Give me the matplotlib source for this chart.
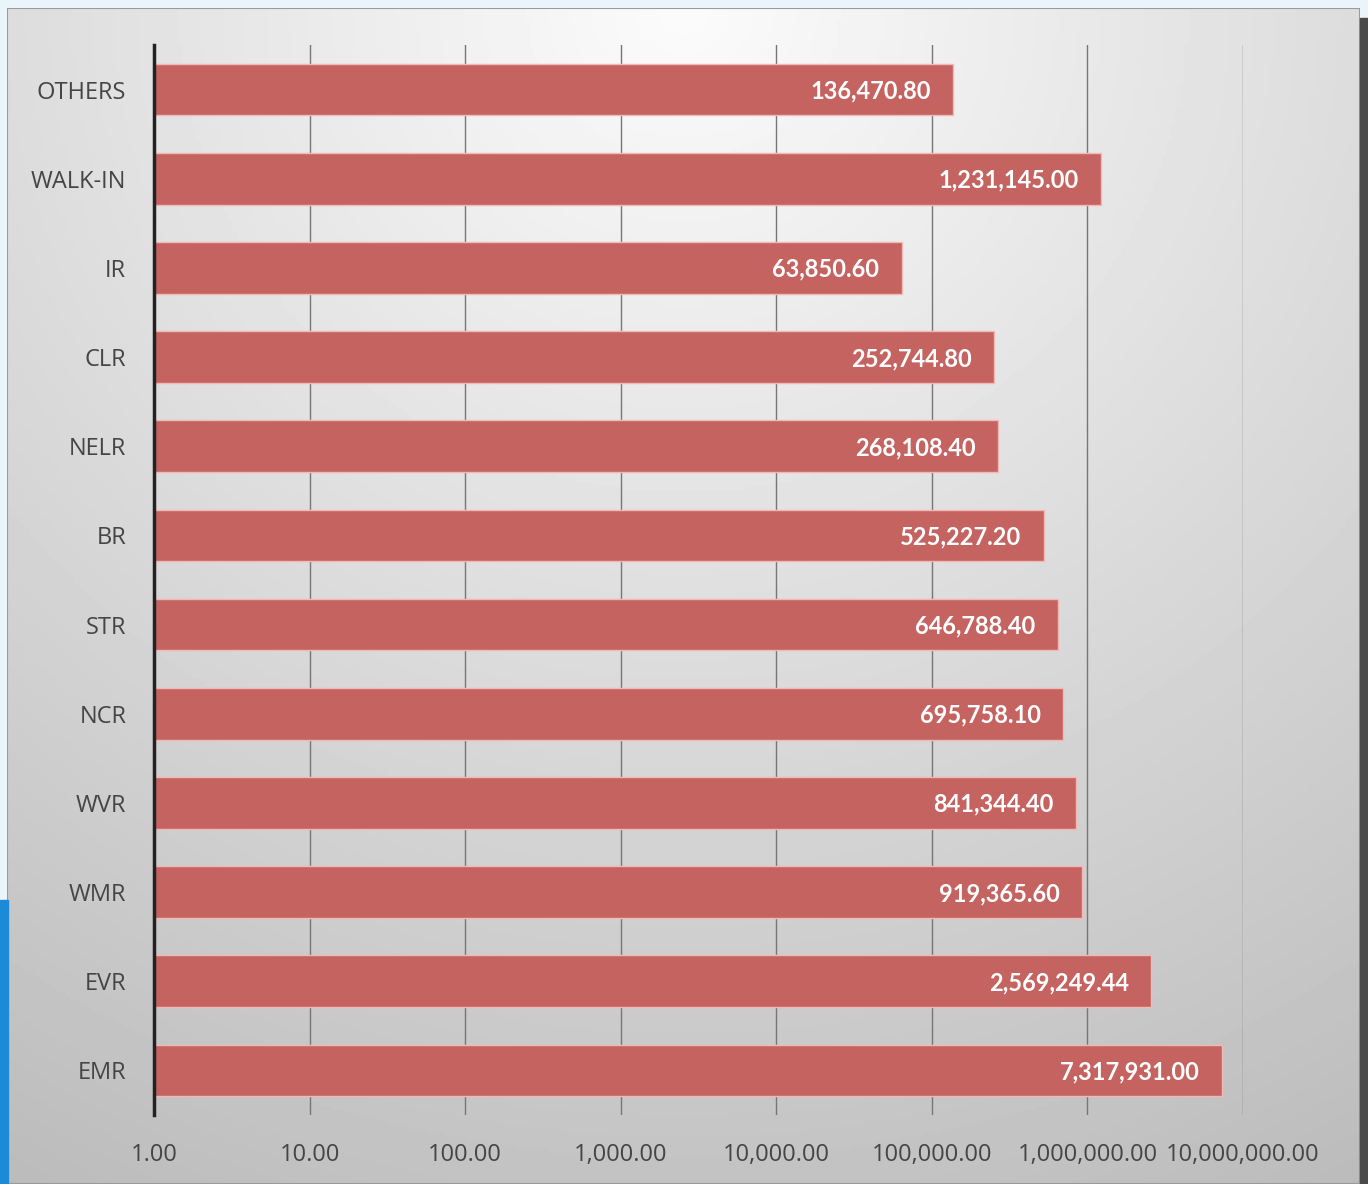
import numpy as np
import matplotlib.pyplot as plt
from matplotlib.patches import Rectangle
from matplotlib.ticker import FixedLocator, FuncFormatter

# categories from top to bottom
regions = ["OTHERS", "WALK-IN", "IR", "CLR", "NELR", "BR", "STR",
           "NCR", "WVR", "WMR", "EVR", "EMR"]
amounts = [136470.80, 1231145.00, 63850.60, 252744.80, 268108.40, 525227.20,
           646788.40, 695758.10, 841344.40, 919365.60, 2569249.44, 7317931.00]
xticks = [1, 10, 100, 1000, 10000, 100000, 1000000, 10000000]

fig = plt.figure(figsize=(13.68, 11.84), dpi=100)
fig.patch.set_facecolor("#EAF4FB")

# desktop bits around the chart window
fig.patches.append(Rectangle((0, 0), 0.006, 0.24, transform=fig.transFigure,
                             color="#1C8AD8", zorder=0))
fig.patches.append(Rectangle((0.994, 0), 0.006, 0.985, transform=fig.transFigure,
                             color="#4A4A4A", zorder=0))

# gradient panel
bg = fig.add_axes([0.005, 0.0, 0.989, 0.993])
bg.set_zorder(0)
yy, xx = np.mgrid[0:1:300j, 0:1:300j]
dist = np.sqrt(((xx - 0.5) * 1.1) ** 2 + (yy * 1.0) ** 2)
shade = 0.985 - 0.22 * np.clip(dist, 0, 1.2)
bg.imshow(shade, cmap="gray", vmin=0, vmax=1, aspect="auto",
          extent=[0, 1, 0, 1], origin="upper")
bg.set_xlim(0, 1)
bg.set_ylim(0, 1)
bg.axis("off")
bg.add_patch(Rectangle((0, 0), 1, 1, fill=False, edgecolor="#9A9A9A", lw=1.5,
                       transform=bg.transAxes))

ax = fig.add_axes([0.1126, 0.0583, 0.796, 0.9037])
ax.set_zorder(1)
ax.patch.set_alpha(0)

ypos = np.arange(len(regions))
ax.barh(ypos, np.array(amounts) - 1, left=1, height=0.58,
        color="#C56361", edgecolor="#F2B8B6", linewidth=1, zorder=3)

for y, v in zip(ypos, amounts):
    ax.annotate(f"{v:,.2f}", xy=(v, y), xytext=(-16, -1), textcoords="offset points",
                ha="right", va="center", color="white", fontsize=17,
                fontweight="bold", family="Lato", zorder=4)

ax.set_xscale("log")
ax.set_xlim(1, 10000000)
ax.set_ylim(len(regions) - 0.5, -0.5)
ax.xaxis.set_major_locator(FixedLocator(xticks))
ax.xaxis.set_minor_locator(FixedLocator([]))
ax.xaxis.set_major_formatter(FuncFormatter(lambda v, p: f"{v:,.2f}"))
ax.set_yticks(ypos)
ax.set_yticklabels(regions)

ax.grid(axis="x", color="#767676", linewidth=1, zorder=1)
ax.tick_params(axis="both", length=0, colors="#454545", labelsize=17)
ax.tick_params(axis="x", pad=20)
ax.tick_params(axis="y", pad=20)
for lbl in ax.get_xticklabels() + ax.get_yticklabels():
    lbl.set_family("Open Sans")

for s in ["top", "right", "bottom"]:
    ax.spines[s].set_visible(False)
ax.spines["left"].set_color("#222222")
ax.spines["left"].set_linewidth(2.5)
ax.spines["left"].set_zorder(5)

fig.savefig("out.png", dpi=100, facecolor=fig.get_facecolor())
